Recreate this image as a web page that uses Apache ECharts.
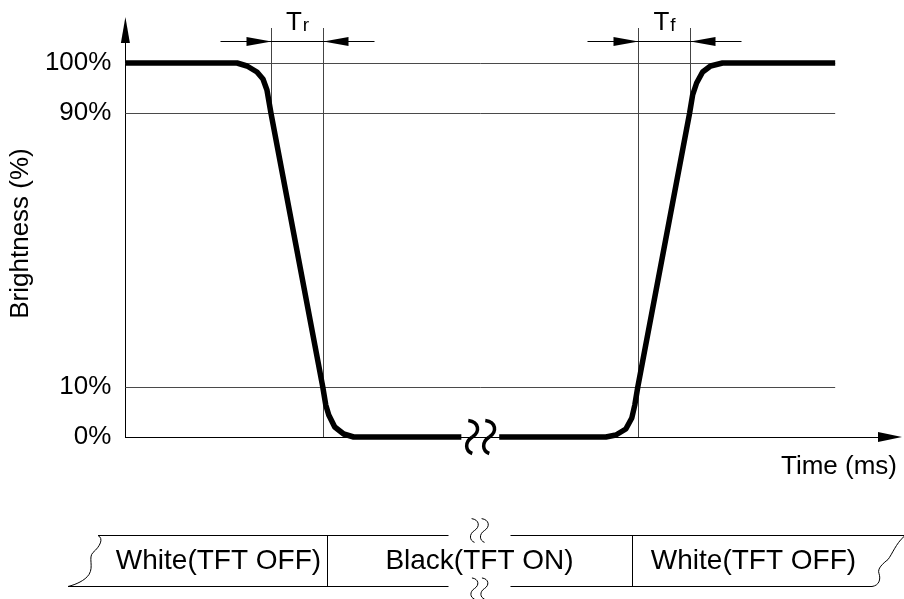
<!DOCTYPE html>
<html><head><meta charset="utf-8">
<script src="https://cdn.jsdelivr.net/npm/echarts@6/dist/echarts.min.js"></script>
<style>html,body{margin:0;padding:0;background:#fff}#c{width:904px;height:599px}</style>
</head><body><div id="c"></div>
<script>
// ---------------- data ----------------
// brightness tick labels and the schematic drawn level of each one (diagram is not to scale)
const brightnessLabels = ['0%', '10%', '90%', '100%'];
const brightnessLevels = [0, 5.0, 32.4, 37.4];

// response curve, schematic time units (ms), split at the time-axis break
const fallTime  = [0, 11.2, 12.2, 13.2, 13.8, 14.2, 14.6, 19.8, 20.1, 20.4, 21.0, 21.9, 22.9, 33.7];
const fallLevel = [37.4, 37.4, 37.1, 36.5, 35.8, 34.7, 32.4, 5.0, 3.2, 2.2, 1.0, 0.3, 0, 0];
const riseTime  = [37.5, 48.2, 49.2, 50.2, 50.8, 51.1, 51.4, 56.6, 56.9, 57.3, 57.9, 58.7, 59.9, 71.2];
const riseLevel = [0, 0, 0.2, 0.8, 1.9, 3.2, 5.0, 32.4, 34.2, 35.4, 36.5, 37.1, 37.4, 37.4];

const gridEndTime = 71.2;
const timeBreak = 35.65;

// response-time dimensions
const responseMain = ['T', 'T'];
const responseSub = ['r', 'f'];
const responseStart = [14.6, 51.4];
const responseEnd = [19.8, 56.6];
const responseStartPct = ['90%', '10%'];
const responseEndPct = ['10%', '90%'];

// state bar
const stateLabels = ['White(TFT OFF)', 'Black(TFT ON)', 'White(TFT OFF)'];
const stateEdges = [-1.3, 20.4, 50.9, 75.2];

// ---------------- chart ----------------
const FONT = '"Liberation Sans", Arial, sans-serif';
const DIM_LEVEL = 39.6, GUIDE_TOP = 40.9;
const levelOf = p => brightnessLevels[brightnessLabels.indexOf(p)];
const px = v => Math.round(v) + 0.5;

function bez(p0, c1, c2, p1, style) {
  return { type: 'bezierCurve', shape: { x1: p0[0], y1: p0[1], cpx1: c1[0], cpy1: c1[1], cpx2: c2[0], cpy2: c2[1], x2: p1[0], y2: p1[1] }, style: Object.assign({ fill: null }, style) };
}
function sMark(cx, cy, s, style) {
  const P = (dx, dy) => [cx + dx * s, cy + dy * s];
  return [
    bez(P(-4, -16.5), P(7, -15), P(8, -5), P(0, 0), style),
    bez(P(0, 0), P(-8, 5), P(-7, 14), P(0, 16.5), style)
  ];
}
function hline(x1, x2, y, style) {
  return { type: 'line', shape: { x1: x1, y1: y, x2: x2, y2: y }, style: style };
}
function vline(x, y1, y2, style) {
  return { type: 'line', shape: { x1: x, y1: y1, x2: x, y2: y2 }, style: style };
}

const chart = echarts.init(document.getElementById('c'), null, { renderer: 'canvas' });

const option = {
  backgroundColor: '#fff',
  animation: false,
  textStyle: { fontFamily: FONT },
  grid: [
    { left: 123, right: 14, top: 30, bottom: 162 },
    { left: 123, right: 14, top: 535, bottom: 13 }
  ],
  xAxis: [
    {
      type: 'value', gridIndex: 0, min: 0, max: 76.7,
      name: 'Time (ms)', nameLocation: 'end', nameGap: 7,
      nameTextStyle: { fontSize: 26, color: '#000', fontFamily: FONT, align: 'right', verticalAlign: 'top', padding: [17, 0, 0, 0] },
      axisLine: { show: true, lineStyle: { color: '#000', width: 1 }, symbol: ['none', 'triangle'], symbolSize: [10, 24] },
      axisTick: { show: false }, axisLabel: { show: false }, splitLine: { show: false }
    },
    { type: 'value', gridIndex: 1, min: 0, max: 76.7, show: false }
  ],
  yAxis: [
    {
      type: 'value', gridIndex: 0, min: 0, max: 40.7,
      name: 'Brightness (%)', nameLocation: 'middle', nameGap: 86,
      nameTextStyle: { fontSize: 26, color: '#000', fontFamily: FONT },
      axisLine: { show: true, lineStyle: { color: '#000', width: 1 }, symbol: ['none', 'triangle'], symbolSize: [9, 26] },
      axisTick: { show: false },
      axisLabel: {
        customValues: brightnessLevels, fontSize: 26, color: '#000', margin: 14, fontFamily: FONT,
        formatter: v => { const i = brightnessLevels.findIndex(l => Math.abs(l - v) < 1e-6); return i < 0 ? '' : brightnessLabels[i]; }
      },
      splitLine: { show: false }
    },
    { type: 'value', gridIndex: 1, min: 0, max: 1, show: false }
  ],
  series: [
    {
      type: 'custom', xAxisIndex: 0, yAxisIndex: 0, z: 1, silent: true,
      data: [[0, 0]],
      renderItem: (params, api) => ({
        type: 'group',
        children: brightnessLevels.filter(l => l > 0).map(l => {
          const a = api.coord([0, l]), b = api.coord([gridEndTime, l]);
          return hline(a[0], b[0], px(a[1]), { stroke: '#4a4a4a', lineWidth: 1 });
        })
      })
    },
    {
      type: 'custom', xAxisIndex: 0, yAxisIndex: 0, z: 2, silent: true,
      data: responseStart.map((s, i) => [s, responseEnd[i]]),
      renderItem: (params, api) => {
        const i = params.dataIndex;
        const s = api.coord([responseStart[i], DIM_LEVEL]);
        const e = api.coord([responseEnd[i], DIM_LEVEL]);
        const top = api.coord([0, GUIDE_TOP])[1];
        const y = px(s[1]);
        const xs = px(s[0]), xe = px(e[0]);
        const thin = { stroke: '#000', lineWidth: 1 };
        const guide = { stroke: '#444', lineWidth: 1 };
        const botS = api.coord([0, responseStartPct[i] === '90%' ? levelOf('90%') : 0])[1];
        const botE = api.coord([0, responseEndPct[i] === '90%' ? levelOf('90%') : 0])[1];
        const L = 25, H = 4.5, ext = 51;
        return {
          type: 'group',
          children: [
            vline(xs, top, botS, guide),
            vline(xe, top, botE, guide),
            hline(xs - ext, xe + ext, y, thin),
            { type: 'polygon', shape: { points: [[xs, y], [xs - L, y - H], [xs - L, y + H]] }, style: { fill: '#000' } },
            { type: 'polygon', shape: { points: [[xe, y], [xe + L, y - H], [xe + L, y + H]] }, style: { fill: '#000' } },
            {
              type: 'text',
              style: {
                x: (xs + xe) / 2, y: y - 6,
                text: '{a|' + responseMain[i] + '}{b|' + responseSub[i] + '}',
                align: 'center', verticalAlign: 'bottom',
                rich: {
                  a: { fontSize: 26, fontFamily: FONT, fill: '#000', verticalAlign: 'bottom' },
                  b: { fontSize: 19, fontFamily: FONT, fill: '#000', verticalAlign: 'bottom', padding: [0, 0, 0, 1] }
                }
              }
            }
          ]
        };
      }
    },
    {
      type: 'line', xAxisIndex: 0, yAxisIndex: 0, z: 5, showSymbol: false, silent: true, clip: false,
      data: fallTime.map((t, i) => [t, fallLevel[i]]),
      lineStyle: { color: '#000', width: 5.5, join: 'round', cap: 'butt' }
    },
    {
      type: 'line', xAxisIndex: 0, yAxisIndex: 0, z: 5, showSymbol: false, silent: true, clip: false,
      data: riseTime.map((t, i) => [t, riseLevel[i]]),
      lineStyle: { color: '#000', width: 5.5, join: 'round', cap: 'butt' }
    },
    {
      type: 'custom', xAxisIndex: 0, yAxisIndex: 0, z: 6, silent: true,
      data: [[timeBreak, 0]],
      renderItem: (params, api) => {
        const c = api.coord([timeBreak, 0]);
        const st = { stroke: '#000', lineWidth: 3.5 };
        return { type: 'group', children: [].concat(sMark(c[0] - 8.5, c[1], 1, st), sMark(c[0] + 8.5, c[1], 1, st)) };
      }
    },
    {
      type: 'custom', xAxisIndex: 1, yAxisIndex: 1, z: 3, silent: true,
      data: [[0, 0]],
      renderItem: (params, api) => {
        const yT = px(api.coord([0, 1])[1]), yB = px(api.coord([0, 0])[1]);
        const X = t => api.coord([t, 0])[0];
        const xL = X(stateEdges[0]), xR = X(stateEdges[stateEdges.length - 1]);
        const xb = X(timeBreak);
        const gL = xb - 31, gR = xb + 31;
        const st = { stroke: '#000', lineWidth: 1 };
        const ch = [
          hline(xL - 12, gL, yT, st), hline(gR, xR + 29, yT, st),
          hline(xL - 42, gL, yB, st), hline(gR, xR - 3, yB, st)
        ];
        for (let k = 1; k < stateEdges.length - 1; k++) ch.push(vline(px(X(stateEdges[k])), yT, yB, st));
        const Lp = (dx, dy) => [xL + dx, yT + dy];
        ch.push(bez(Lp(-12, 0), Lp(-6, 3), Lp(-10, 11), Lp(-17, 17), st));
        ch.push(bez(Lp(-17, 17), Lp(-22, 22), Lp(-16, 31), Lp(-21, 39), st));
        ch.push(bez(Lp(-21, 39), Lp(-25, 45), Lp(-34, 49), Lp(-42, 51), st));
        const Rp = (dx, dy) => [xR + dx, yT + dy];
        ch.push(bez(Rp(-3, 51), Rp(4, 50), Rp(6, 44), Rp(4, 38), st));
        ch.push(bez(Rp(4, 38), Rp(2, 33), Rp(8, 28), Rp(13, 24), st));
        ch.push(bez(Rp(13, 24), Rp(17, 19), Rp(21, 8), Rp(29, 1), st));
        [xb - 5, xb + 5].forEach(cx => {
          sMark(cx, yT - 5, 0.72, st).forEach(e => ch.push(e));
          sMark(cx, yB + 2, 0.64, st).forEach(e => ch.push(e));
        });
        for (let k = 0; k < stateLabels.length; k++) {
          const cx = (X(stateEdges[k]) + X(stateEdges[k + 1])) / 2;
          ch.push({ type: 'text', style: { x: cx, y: (yT + yB) / 2, text: stateLabels[k], align: 'center', verticalAlign: 'middle', fontSize: 28, fontFamily: FONT, fill: '#000' } });
        }
        return { type: 'group', children: ch };
      }
    }
  ]
};
chart.setOption(option);
</script>
</body></html>
